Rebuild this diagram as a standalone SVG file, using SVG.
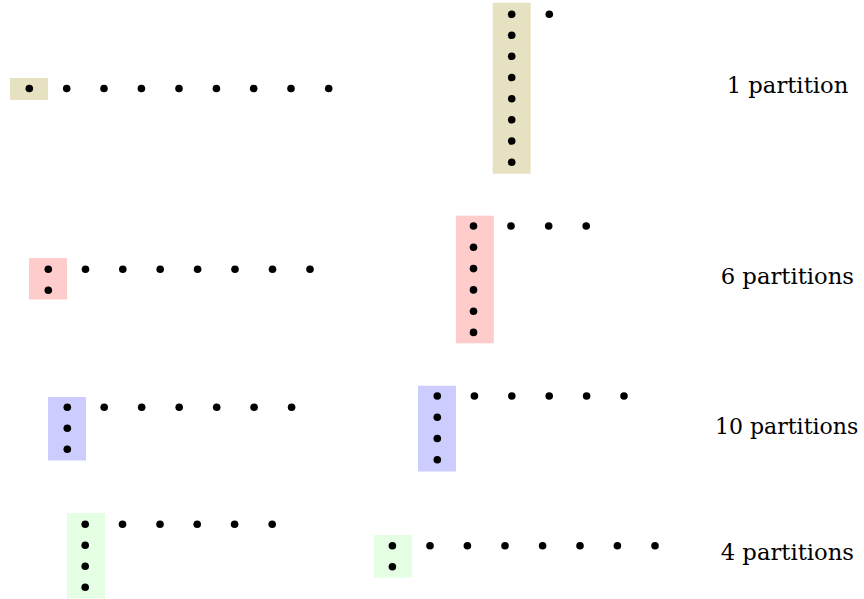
<svg xmlns="http://www.w3.org/2000/svg" width="864" height="599" viewBox="0 0 864 599">
<style>
.d{fill:#000}
.lbl{font-family:'DejaVu Serif','Liberation Serif',serif;font-size:22px;fill:#000}
.tan{fill:#E6E1C0}.red{fill:#FFCCCC}.blue{fill:#CCCCFF}.grn{fill:#E5FFE5}
</style>
<defs><circle id="p" r="3.8" class="d"/></defs>
<rect width="864" height="599" fill="#fff"/>
<g id="row1-left">
<rect class="tan" x="10" y="78" width="38" height="22"/>
<use href="#p" x="29.3" y="88.5"/><use href="#p" x="66.7" y="88.5"/><use href="#p" x="104" y="88.5"/><use href="#p" x="141.4" y="88.5"/><use href="#p" x="179" y="88.5"/><use href="#p" x="216.4" y="88.5"/><use href="#p" x="253.7" y="88.5"/><use href="#p" x="291" y="88.5"/><use href="#p" x="328.7" y="88.5"/>
</g>
<g id="row1-right">
<rect class="tan" x="492.7" y="2.7" width="38" height="171"/>
<use href="#p" x="511.7" y="14.3"/><use href="#p" x="511.7" y="35.3"/><use href="#p" x="511.7" y="56.3"/><use href="#p" x="511.7" y="77.5"/><use href="#p" x="511.7" y="98.7"/><use href="#p" x="511.7" y="119.8"/><use href="#p" x="511.7" y="141"/><use href="#p" x="511.7" y="162.2"/>
<use href="#p" x="549.3" y="14.3"/>
</g>
<g id="label1"><text class="lbl" x="726.7" y="93.3" textLength="121.6" lengthAdjust="spacingAndGlyphs">1 partition</text></g>
<g id="row2-left">
<rect class="red" x="29" y="258" width="38" height="41.5"/>
<use href="#p" x="48.3" y="269.3"/><use href="#p" x="48.3" y="290.3"/>
<use href="#p" x="85.5" y="269.3"/><use href="#p" x="122.8" y="269.3"/><use href="#p" x="160.2" y="269.3"/><use href="#p" x="197.6" y="269.3"/><use href="#p" x="235" y="269.3"/><use href="#p" x="272.5" y="269.3"/><use href="#p" x="310" y="269.3"/>
</g>
<g id="row2-right">
<rect class="red" x="455.8" y="215.7" width="38" height="127.6"/>
<use href="#p" x="473.5" y="226"/><use href="#p" x="473.5" y="247.3"/><use href="#p" x="473.5" y="268.6"/><use href="#p" x="473.5" y="289.9"/><use href="#p" x="473.5" y="311.2"/><use href="#p" x="473.5" y="332.4"/>
<use href="#p" x="511" y="226"/><use href="#p" x="548.7" y="226"/><use href="#p" x="586.2" y="226"/>
</g>
<g id="label2"><text class="lbl" x="720.7" y="284" textLength="133.3" lengthAdjust="spacingAndGlyphs">6 partitions</text></g>
<g id="row3-left">
<rect class="blue" x="48" y="397" width="38" height="63.5"/>
<use href="#p" x="67.3" y="407.3"/><use href="#p" x="67.3" y="428.3"/><use href="#p" x="67.3" y="449.3"/>
<use href="#p" x="104.2" y="407.3"/><use href="#p" x="141.7" y="407.3"/><use href="#p" x="179.2" y="407.3"/><use href="#p" x="216.7" y="407.3"/><use href="#p" x="254.1" y="407.3"/><use href="#p" x="291.6" y="407.3"/>
</g>
<g id="row3-right">
<rect class="blue" x="418" y="385.7" width="38" height="85.8"/>
<use href="#p" x="437.3" y="396"/><use href="#p" x="437.3" y="417.2"/><use href="#p" x="437.3" y="438.5"/><use href="#p" x="437.3" y="459.8"/>
<use href="#p" x="474.4" y="396"/><use href="#p" x="511.8" y="396"/><use href="#p" x="549.2" y="396"/><use href="#p" x="586.6" y="396"/><use href="#p" x="624" y="396"/>
</g>
<g id="label3"><text class="lbl" x="715" y="434" textLength="143.3" lengthAdjust="spacingAndGlyphs">10 partitions</text></g>
<g id="row4-left">
<rect class="grn" x="67" y="513" width="38" height="85.5"/>
<use href="#p" x="85.2" y="524.3"/><use href="#p" x="85.2" y="545.3"/><use href="#p" x="85.2" y="566.3"/><use href="#p" x="85.2" y="587.2"/>
<use href="#p" x="122.5" y="524.3"/><use href="#p" x="160" y="524.3"/><use href="#p" x="197.2" y="524.3"/><use href="#p" x="234.6" y="524.3"/><use href="#p" x="272.2" y="524.3"/>
</g>
<g id="row4-right">
<rect class="grn" x="374" y="535" width="38" height="42.7"/>
<use href="#p" x="392.4" y="545.7"/><use href="#p" x="392.4" y="566.7"/>
<use href="#p" x="430" y="545.7"/><use href="#p" x="467.4" y="545.7"/><use href="#p" x="505" y="545.7"/><use href="#p" x="542.6" y="545.7"/><use href="#p" x="580" y="545.7"/><use href="#p" x="617.4" y="545.7"/><use href="#p" x="655" y="545.7"/>
</g>
<g id="label4"><text class="lbl" x="720.7" y="560" textLength="133.3" lengthAdjust="spacingAndGlyphs">4 partitions</text></g>
<g id="connectors"/>
</svg>
